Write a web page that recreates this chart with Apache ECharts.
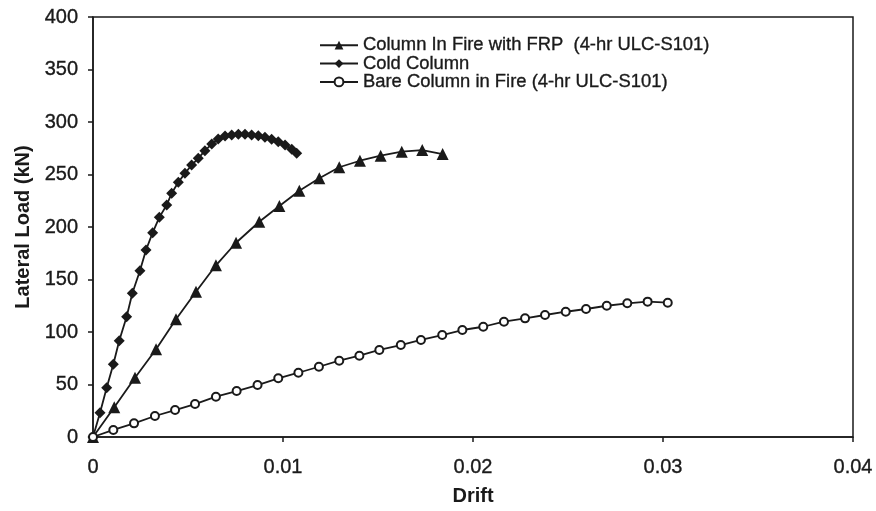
<!DOCTYPE html>
<html>
<head>
<meta charset="utf-8">
<style>
  html, body { margin: 0; padding: 0; background: #fff; }
  #chart { width: 876px; height: 511px; }
</style>
<script src="https://cdn.jsdelivr.net/npm/echarts@6/dist/echarts.min.js"></script>
</head>
<body>
<div id="chart"></div>
<script>
  //  series names (legend order)
  var seriesNames = [
    'Column In Fire with FRP  (4-hr ULC-S101)',
    'Cold Column',
    'Bare Column in Fire (4-hr ULC-S101)'
  ];

  //  [drift, lateral load kN]
  var frpData = [
    [0, 0], [0.00112, 28.3], [0.00221, 56.5], [0.00332, 83.5], [0.00437, 112.1],
    [0.00542, 138.4], [0.00647, 163.5], [0.00753, 185.0], [0.00875, 205.0],
    [0.00981, 220.0], [0.01086, 234.6], [0.01191, 246.4], [0.01296, 256.9],
    [0.01405, 263.1], [0.01514, 267.9], [0.01625, 271.7], [0.01733, 273.3],
    [0.0184, 269.5]
  ];
  var coldData = [
    [0, 0], [0.00037, 23.1], [0.00072, 47.0], [0.00107, 69.2], [0.00138, 91.7],
    [0.00177, 114.6], [0.00207, 136.9], [0.00247, 158.4], [0.00279, 178.1],
    [0.00314, 194.6], [0.00349, 209.2], [0.00388, 221.0], [0.00414, 232.1],
    [0.00449, 242.6], [0.00484, 251.1], [0.00519, 259.0], [0.00554, 265.4],
    [0.00589, 272.7], [0.00625, 279.0], [0.00659, 283.8], [0.00695, 286.7],
    [0.0073, 287.6], [0.00765, 288.3], [0.008, 288.3], [0.00835, 287.6],
    [0.0087, 287.0], [0.00905, 285.4], [0.0094, 283.5], [0.00975, 281.2],
    [0.01011, 278.1], [0.01046, 274.0], [0.01072, 270.2]
  ];
  var bareData = [
    [0, 0], [0.00107, 6.7], [0.00216, 13.0], [0.00326, 20.0], [0.00432, 25.7],
    [0.00537, 31.4], [0.00647, 38.4], [0.00756, 43.8], [0.00866, 49.5],
    [0.00975, 55.9], [0.01081, 61.2], [0.01189, 66.9], [0.01296, 72.7],
    [0.01402, 77.4], [0.01507, 82.9], [0.0162, 87.6], [0.01726, 92.4],
    [0.01838, 97.1], [0.01944, 101.9], [0.02054, 105.0], [0.02163, 109.8],
    [0.02274, 113.0], [0.02379, 116.2], [0.02488, 119.3], [0.02595, 121.9],
    [0.02704, 125.0], [0.02812, 127.3], [0.02919, 128.9], [0.03025, 127.9]
  ];

  var xTicks = [0, 0.01, 0.02, 0.03, 0.04];
  var yTicks = [0, 50, 100, 150, 200, 250, 300, 350, 400];

  var ink = '#1a1a1a';
  var fontFamily = '"Liberation Sans", Arial, sans-serif';

  //  a thin outline of the same colour makes the text a little heavier, like the scan
  function heavyText(size, extra) {
    var style = { fontSize: size, color: ink, textBorderColor: ink, textBorderWidth: 0.35 };
    for (var k in extra) style[k] = extra[k];
    return style;
  }

  function lineSeries(name, data, symbol, size) {
    return {
      name: name,
      type: 'line',
      data: data,
      symbol: symbol,
      symbolSize: size,
      showAllSymbol: true,
      animation: false,
      lineStyle: { color: ink, width: 1.8 },
      itemStyle: { color: ink, borderColor: ink, borderWidth: symbol === 'emptyCircle' ? 1.6 : 0 }
    };
  }

  var chart = echarts.init(document.getElementById('chart'));
  chart.setOption({
    backgroundColor: '#fff',
    animation: false,
    textStyle: { fontFamily: fontFamily },
    grid: {
      left: 93, right: 23, top: 17, bottom: 74,
      show: true, borderColor: ink, borderWidth: 1.5
    },
    legend: {
      orient: 'vertical',
      left: 319,
      top: 36,
      padding: 0,
      itemWidth: 38,
      itemHeight: 11,
      itemGap: 0,
      textStyle: heavyText(18.4, { lineHeight: 18.3 }),
      data: seriesNames
    },
    xAxis: {
      type: 'value',
      min: xTicks[0],
      max: xTicks[xTicks.length - 1],
      interval: xTicks[1] - xTicks[0],
      name: 'Drift',
      nameLocation: 'middle',
      nameGap: 49,
      nameTextStyle: { fontSize: 20, fontWeight: 'bold', color: ink },
      axisLine: { lineStyle: { color: ink, width: 1.5 } },
      axisTick: { show: true, length: 5, lineStyle: { color: ink, width: 1.5 } },
      axisLabel: heavyText(20, { margin: 20 }),
      splitLine: { show: false }
    },
    yAxis: {
      type: 'value',
      min: yTicks[0],
      max: yTicks[yTicks.length - 1],
      interval: yTicks[1] - yTicks[0],
      name: 'Lateral Load (kN)',
      nameLocation: 'middle',
      nameGap: 60,
      nameTextStyle: { fontSize: 20, fontWeight: 'bold', color: ink },
      axisLine: { lineStyle: { color: ink, width: 1.5 } },
      axisTick: { show: true, length: 5, lineStyle: { color: ink, width: 1.5 } },
      axisLabel: heavyText(20, { margin: 15 }),
      splitLine: { show: false }
    },
    series: [
      lineSeries(seriesNames[0], frpData, 'triangle', 12),
      lineSeries(seriesNames[1], coldData, 'diamond', 11),
      lineSeries(seriesNames[2], bareData, 'emptyCircle', 8)
    ]
  });
</script>
</body>
</html>
